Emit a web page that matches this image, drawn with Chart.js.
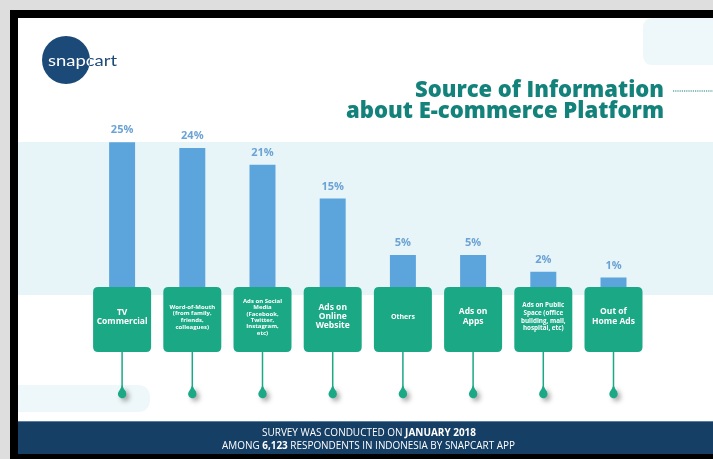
<!DOCTYPE html>
<html>
<head>
<meta charset="utf-8">
<title>Source of Information about E-commerce Platform</title>
<script src="https://cdn.jsdelivr.net/npm/chart.js@4.4.0/dist/chart.umd.min.js"></script>
<style>
  html, body { margin: 0; padding: 0; background: #dedede; }
  #wrap { width: 713px; height: 459px; position: relative; }
  #frame { position: absolute; left: 10px; top: 10px; width: 703px; height: 449px; background: #000000; }
  #sourceChart { position: absolute; left: 0; top: 0; }
</style>
</head>
<body>
<div id="wrap"><div id="frame"></div><canvas id="sourceChart" width="713" height="459"></canvas></div>
<script>
// ============================================
// DATA
// ============================================
const categories = [
  ['TV', 'Commercial'],
  ['Word-of-Mouth', '(from family,', 'friends,', 'colleagues)'],
  ['Ads on Social', 'Media', '(Facebook,', 'Twitter,', 'Instagram,', 'etc)'],
  ['Ads on', 'Online', 'Website'],
  ['Others'],
  ['Ads on', 'Apps'],
  ['Ads on Public', 'Space (office', 'building, mall,', 'hospital, etc)'],
  ['Out of', 'Home Ads']
];
const shares = [25, 24, 21, 15, 5, 5, 2, 1];
const titleLines = ['Source of Information', 'about E-commerce Platform'];
const footerLine1 = [['SURVEY WAS CONDUCTED ON ', false], ['JANUARY 2018', true]];
const footerLine2 = [['AMONG ', false], ['6,123', true], [' RESPONDENTS IN INDONESIA BY SNAPCART APP', false]];

// ============================================
// STYLE
// ============================================
const BAR_BLUE = '#5ba4dc';
const LABEL_BLUE = '#6ba3d4';
const GREEN = '#1ba885';
const TEAL = '#13827a';
const NAVY = '#163f66';
const LOGO_NAVY = '#1c4a78';
const BAND = '#e7f4f8';
// font size / line height for the text inside each green box
const boxFont = [[8.5, 9.5], [6, 6.7], [6, 6.4], [8.5, 9], [7, 8], [8.5, 10], [6.3, 7.7], [8.5, 10]];

function roundRect(ctx, x, y, w, h, r) {
  ctx.beginPath();
  ctx.moveTo(x + r, y);
  ctx.lineTo(x + w - r, y);
  ctx.quadraticCurveTo(x + w, y, x + w, y + r);
  ctx.lineTo(x + w, y + h - r);
  ctx.quadraticCurveTo(x + w, y + h, x + w - r, y + h);
  ctx.lineTo(x + r, y + h);
  ctx.quadraticCurveTo(x, y + h, x, y + h - r);
  ctx.lineTo(x, y + r);
  ctx.quadraticCurveTo(x, y, x + r, y);
  ctx.closePath();
}

// draw text squeezed/stretched to a given width
function fitText(ctx, text, x, y, width, align) {
  const w = ctx.measureText(text).width;
  const s = width / w;
  ctx.save();
  ctx.textAlign = 'left';
  let left = x;
  if (align === 'right') left = x - width;
  if (align === 'center') left = x - width / 2;
  ctx.translate(left, y);
  ctx.scale(s, 1);
  ctx.fillText(text, 0, 0);
  ctx.restore();
}

// draw runs of normal/bold text, centered, squeezed to a width
function drawRuns(ctx, runs, cx, y, width, size) {
  let total = 0;
  runs.forEach(r => {
    ctx.font = (r[1] ? 'bold ' : '') + size + 'px "Open Sans"';
    total += ctx.measureText(r[0]).width;
  });
  const s = width / total;
  ctx.save();
  ctx.translate(cx - width / 2, y);
  ctx.scale(s, 1);
  ctx.textAlign = 'left';
  let x = 0;
  runs.forEach(r => {
    ctx.font = (r[1] ? 'bold ' : '') + size + 'px "Open Sans"';
    ctx.fillText(r[0], x, 0);
    x += ctx.measureText(r[0]).width;
  });
  ctx.restore();
}

const infographicPlugin = {
  id: 'infographic',
  beforeDraw(chart) {
    const ctx = chart.ctx;
    ctx.save();
    // white page inside the black frame
    ctx.fillStyle = '#ffffff';
    ctx.fillRect(18, 18, 695, 436);

    // keep decorations inside the frame
    ctx.beginPath();
    ctx.rect(18, 18, 695, 436);
    ctx.clip();

    // light shapes
    ctx.fillStyle = '#eef7f9';
    roundRect(ctx, 643, 18, 90, 47, 10);
    ctx.fill();
    roundRect(ctx, -20, 385, 170, 27, 13);
    ctx.fill();
    ctx.fillStyle = BAND;
    ctx.fillRect(18, 142, 695, 153);

    // logo
    ctx.fillStyle = LOGO_NAVY;
    ctx.beginPath();
    ctx.arc(66, 60, 24, 0, Math.PI * 2);
    ctx.fill();
    ctx.font = '14.5px Lato';
    ctx.textBaseline = 'middle';
    ctx.textAlign = 'left';
    fitText(ctx, 'snapcart', 48, 61, 69, 'left');
    ctx.save();
    ctx.beginPath();
    ctx.arc(66, 60, 24, 0, Math.PI * 2);
    ctx.clip();
    ctx.fillStyle = '#ffffff';
    fitText(ctx, 'snapcart', 48, 61, 69, 'left');
    ctx.restore();

    // title
    ctx.fillStyle = TEAL;
    ctx.textBaseline = 'alphabetic';
    ctx.font = '800 22px "Open Sans"';
    fitText(ctx, titleLines[0], 664, 97, 249, 'right');
    fitText(ctx, titleLines[1], 664, 118, 318, 'right');
    ctx.strokeStyle = TEAL;
    ctx.lineWidth = 1.2;
    ctx.setLineDash([1.2, 1]);
    ctx.beginPath();
    ctx.moveTo(673, 91);
    ctx.lineTo(713, 91);
    ctx.stroke();
    ctx.setLineDash([]);
    ctx.restore();
  },
  afterDatasetsDraw(chart) {
    const ctx = chart.ctx;
    const meta = chart.getDatasetMeta(0);
    const xScale = chart.scales.x;
    ctx.save();
    categories.forEach((lines, i) => {
      const cx = xScale.getPixelForValue(i);
      const bar = meta.data[i];

      // stem + drop
      ctx.strokeStyle = GREEN;
      ctx.lineWidth = 1.5;
      ctx.beginPath();
      ctx.moveTo(cx, 350);
      ctx.lineTo(cx, 389);
      ctx.stroke();
      ctx.save();
      ctx.shadowColor = 'rgba(0,0,0,0.35)';
      ctx.shadowBlur = 5;
      ctx.shadowOffsetX = 3;
      ctx.shadowOffsetY = 3;
      ctx.fillStyle = GREEN;
      ctx.beginPath();
      ctx.moveTo(cx, 385);
      ctx.quadraticCurveTo(cx + 1.5, 389, cx + 4, 392);
      ctx.arc(cx, 394, 4.2, -0.5, Math.PI + 0.5);
      ctx.quadraticCurveTo(cx - 1.5, 389, cx, 385);
      ctx.fill();
      ctx.restore();

      // box
      ctx.fillStyle = GREEN;
      roundRect(ctx, cx - 29, 287, 58, 65, 5);
      ctx.fill();

      // box text
      const [size, lh] = boxFont[i];
      ctx.fillStyle = '#ffffff';
      ctx.font = 'bold ' + size + 'px "Open Sans"';
      ctx.textAlign = 'center';
      ctx.textBaseline = 'middle';
      const top = 317 - (lines.length - 1) * lh / 2;
      lines.forEach((t, k) => ctx.fillText(t, cx, top + k * lh));

      // value label
      ctx.fillStyle = LABEL_BLUE;
      ctx.font = 'bold 11px "Open Sans"';
      ctx.fillText(shares[i] + '%', cx, bar.y - 12);
    });

    // footer
    ctx.fillStyle = NAVY;
    ctx.fillRect(18, 421, 695, 33);
    ctx.fillStyle = '#5b7fa3';
    ctx.fillRect(18, 421, 695, 1);
    ctx.fillStyle = '#ffffff';
    ctx.textBaseline = 'middle';
    drawRuns(ctx, footerLine1, 369, 433, 214, 10);
    drawRuns(ctx, footerLine2, 368.5, 446, 293, 10);
    ctx.restore();
  }
};

new Chart(document.getElementById('sourceChart'), {
  type: 'bar',
  data: {
    labels: categories,
    datasets: [{
      data: shares,
      base: -2,
      backgroundColor: BAR_BLUE,
      borderWidth: 0,
      barPercentage: 0.37,
      categoryPercentage: 1
    }]
  },
  options: {
    responsive: false,
    animation: false,
    events: [],
    layout: { padding: { left: 87, right: 64.4, top: 114.1, bottom: 164.7 } },
    plugins: {
      legend: { display: false },
      title: { display: false },
      tooltip: { enabled: false }
    },
    scales: {
      x: { display: false, offset: true },
      y: { display: false, min: -2, max: 30 }
    }
  },
  plugins: [infographicPlugin]
});
</script>
</body>
</html>
